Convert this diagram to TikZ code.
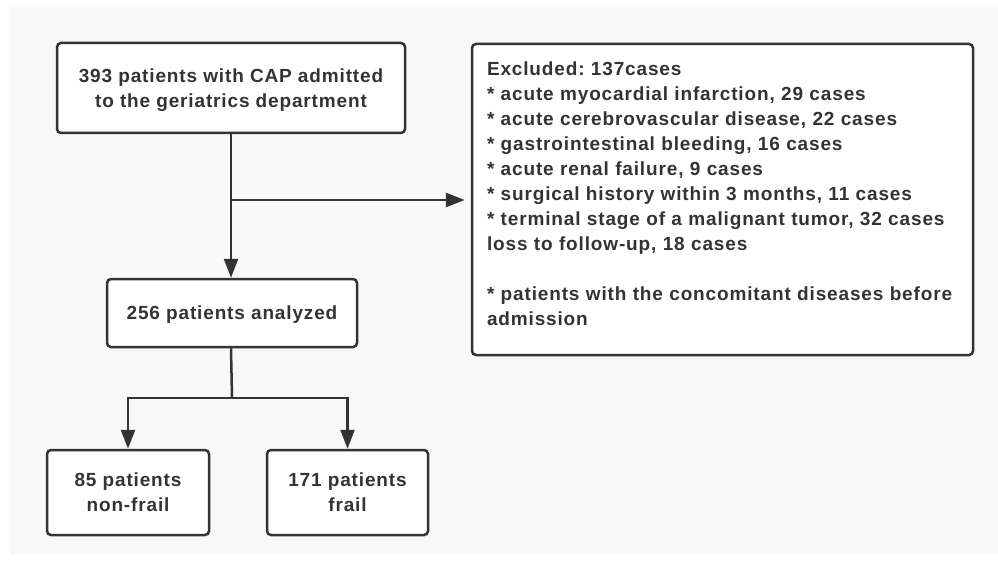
\documentclass[tikz,border=0pt]{standalone}
\usepackage{fontspec}
\setmainfont{Liberation Sans}[LetterSpace=4.5]
\usetikzlibrary{arrows.meta}
\definecolor{ink}{HTML}{333333}
\definecolor{paper}{HTML}{F8F8F8}
\tikzset{%
    box/.style={draw=ink, fill=white, line width=2.5pt, rounded corners=4pt,
        text=ink, font=\fontsize{19}{25}\selectfont\bfseries\frenchspacing, align=center,
        inner sep=0pt},
    flat/.style={box, text depth=0pt}
}

\begin{document}
\begin{tikzpicture}[
        x=1pt, y=-1pt,
        edge/.style={draw=ink, line width=2.5pt},
        arrow/.style={edge, -{Triangle[length=19pt,width=14pt]}}
        ]
        \useasboundingbox (0,0) rectangle (998,567);
        \fill[white] (0,0) rectangle (998,567);
        \fill[paper] (10,7) rectangle (998,555);

        \node[flat, minimum width=348pt, minimum height=90pt] (admit) at (231,88)
            {393 patients with CAP admitted\\to the geriatrics department};
        \node[flat, minimum width=250pt, minimum height=68pt] (analyzed) at (232,313)
            {256 patients analyzed};
        \node[flat, minimum width=162pt, minimum height=85pt] (nonfrail) at (128,492.5)
            {85 patients\\non-frail};
        \node[flat, minimum width=161pt, minimum height=85pt] (frail) at (347.5,492.5)
            {171 patients\\frail};
        \node[box, align=left, text width=471pt, inner xsep=15pt,
              minimum height=311pt] (excluded) at (722.5,199.5)
            {Excluded: 137cases\\
             {}* acute myocardial infarction, 29 cases\\
             {}* acute cerebrovascular disease, 22 cases\\
             {}* gastrointestinal bleeding, 16 cases\\
             {}* acute renal failure, 9 cases\\
             {}* surgical history within 3 months, 11 cases\\
             {}* terminal stage of a malignant tumor, 32 cases\\
             loss to follow-up, 18 cases\\[25pt]
             {}* patients with the concomitant diseases before\\
             admission\rule[-12pt]{0pt}{12pt}};

        \coordinate (split) at (admit.south |- 0,200);
        \coordinate (fork) at (analyzed.south |- 0,398);

        \draw[arrow] (admit.south) -- (analyzed.north -| admit.south);
        \draw[arrow, shorten >=6pt] (split) -- (excluded.west |- split);
        \draw[edge] (analyzed.south -| admit.south) -- (fork);
        \draw[arrow] (fork) -| (nonfrail.north);
        \draw[arrow] (fork) -| (frail.north);
    \end{tikzpicture}
\end{document}
